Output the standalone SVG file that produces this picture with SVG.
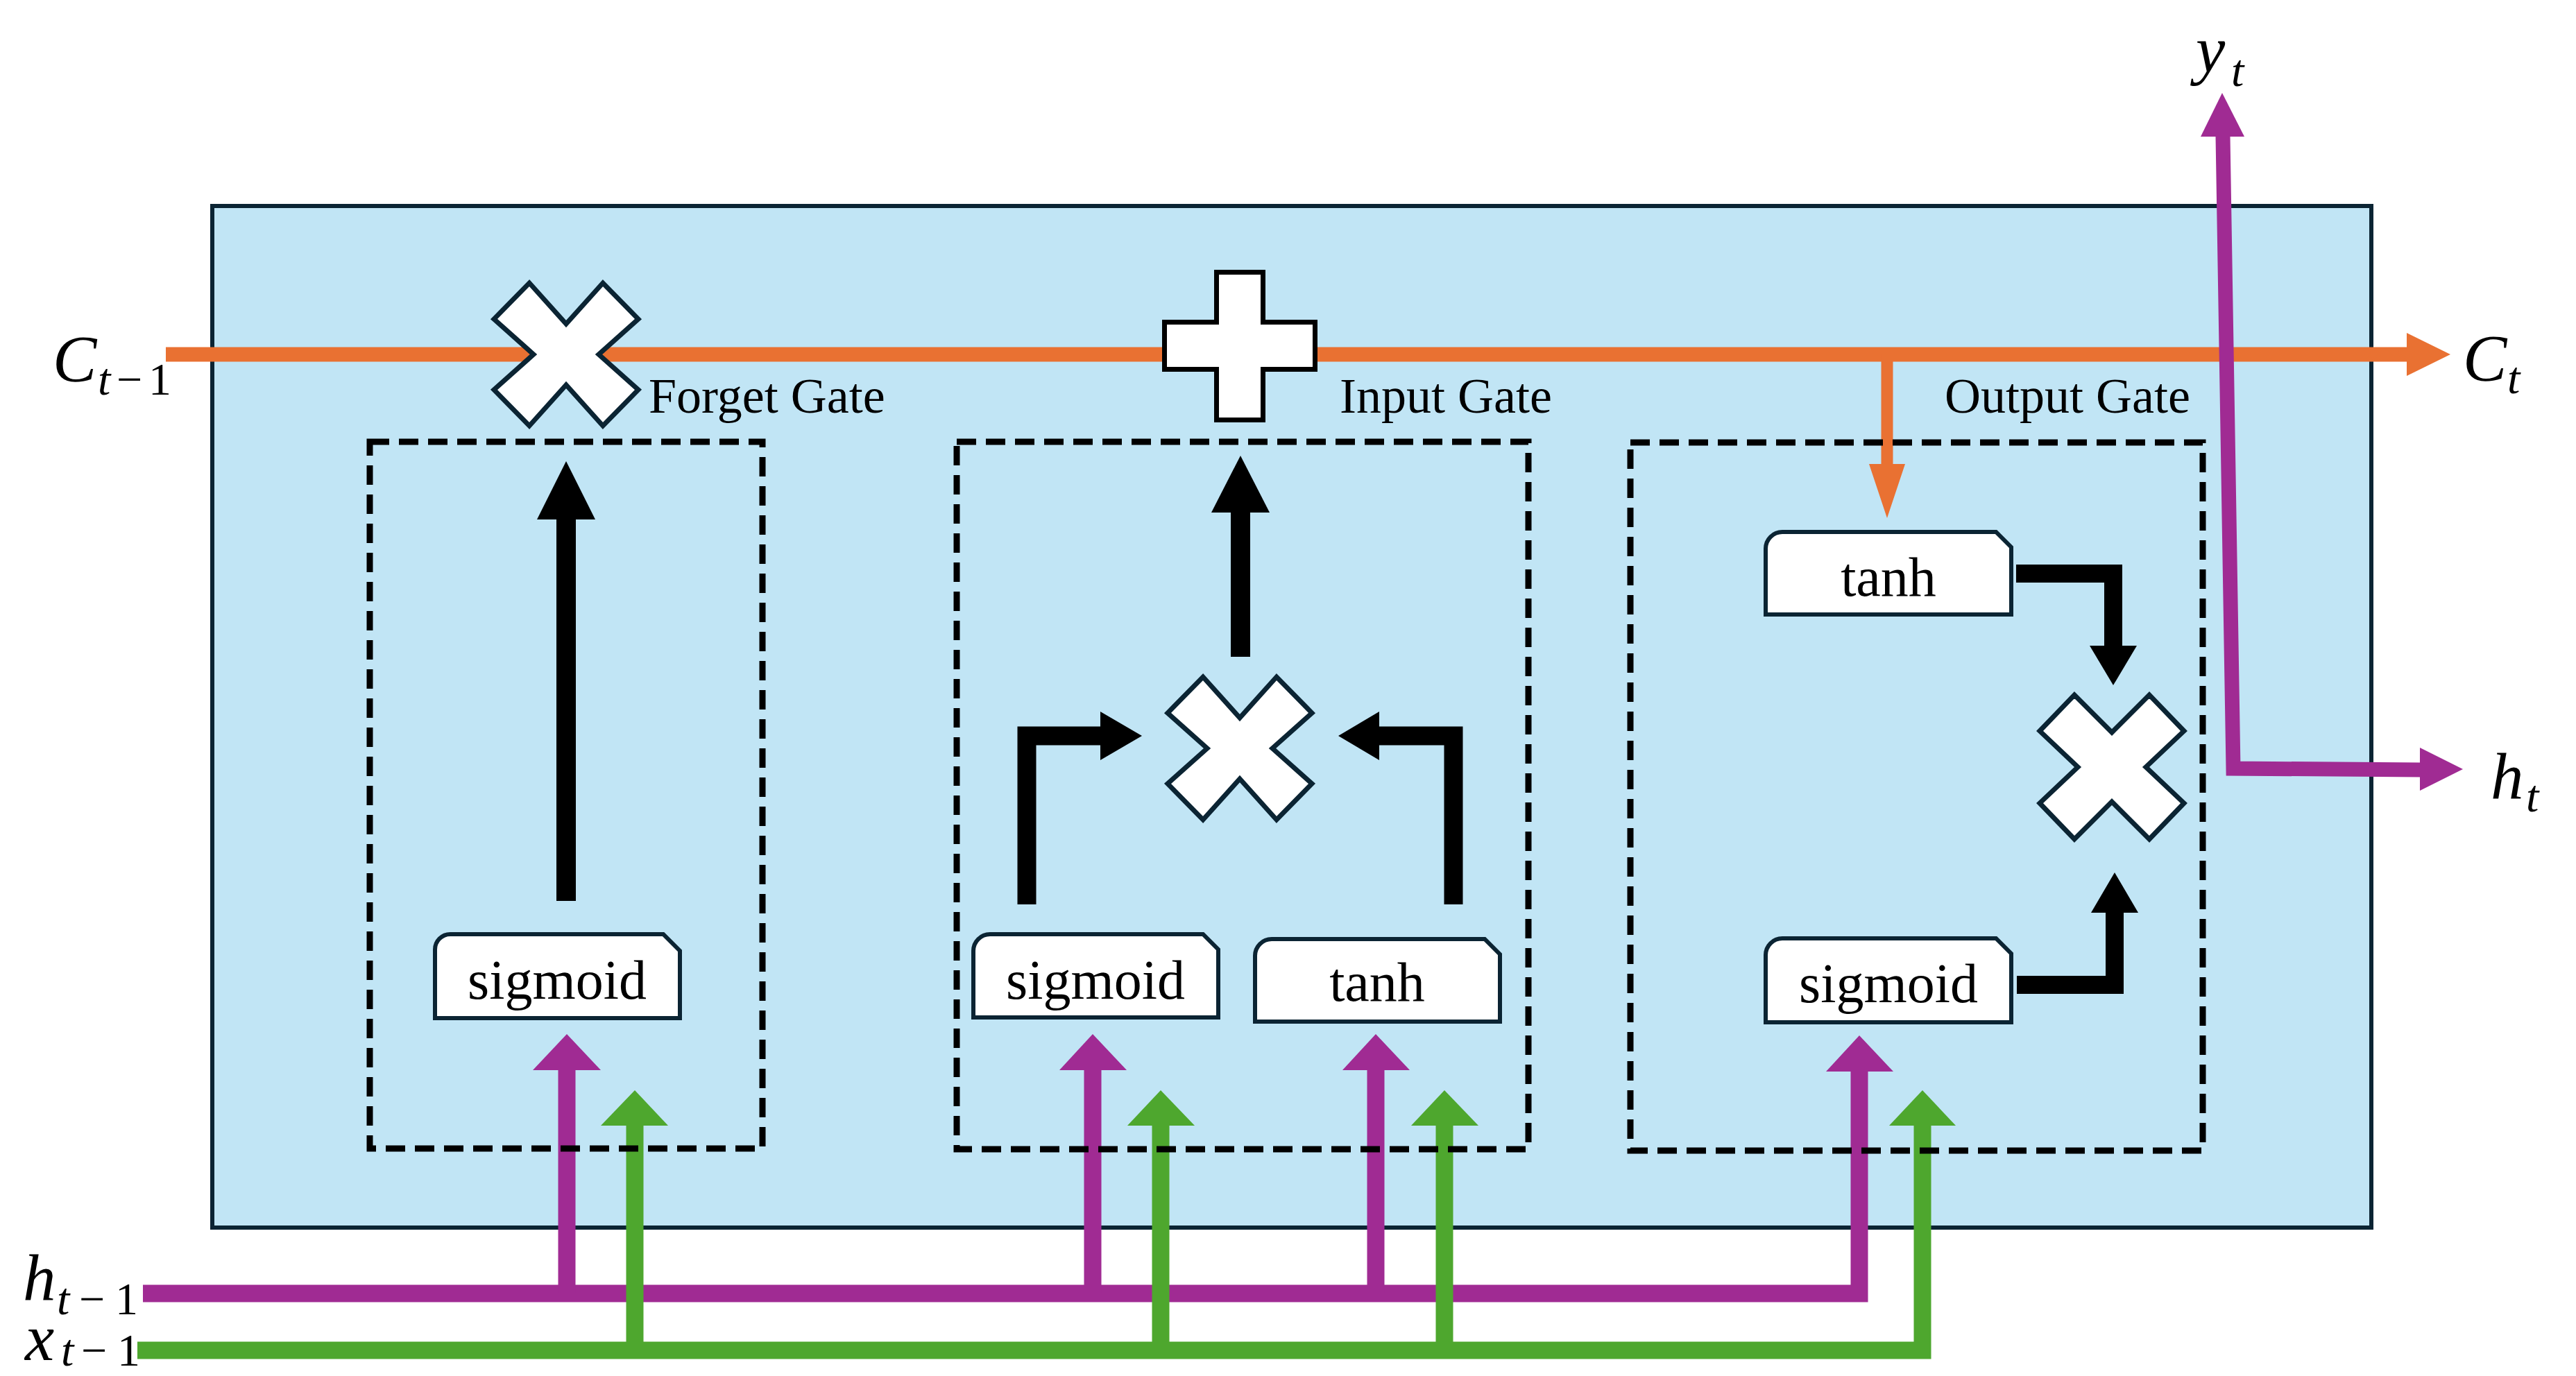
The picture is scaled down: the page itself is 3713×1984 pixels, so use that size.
<svg xmlns="http://www.w3.org/2000/svg" width="3713" height="1984" viewBox="0 0 3713 1984">
<style>
.cell{fill:#C1E5F5;stroke:#0B2433;stroke-width:6}
.dash{fill:none;stroke:#000;stroke-width:9;stroke-dasharray:28 14}
.op{fill:#fff;stroke:#0B2433;stroke-width:7;stroke-linejoin:miter}
.plus{fill:#fff;stroke:#000;stroke-width:7}
.fn{fill:#fff;stroke:#0B2433;stroke-width:6}
.fnt{font-family:"Liberation Serif","Times New Roman",serif;font-size:80px;fill:#000;text-anchor:middle}
.gate{font-family:"Liberation Serif","Times New Roman",serif;font-size:72px;fill:#000}
.m{font-family:"Liberation Serif","Times New Roman",serif;font-style:italic;font-size:95px;fill:#000}
.s{font-family:"Liberation Serif","Times New Roman",serif;font-style:italic;font-size:66px;fill:#000}
.su{font-family:"Liberation Serif","Times New Roman",serif;font-size:66px;fill:#000}
.or{fill:none;stroke:#E97132}
.pu{fill:none;stroke:#A02B93;stroke-linejoin:miter}
.gr{fill:none;stroke:#4EA72E;stroke-linejoin:miter}
.bk{fill:none;stroke:#000;stroke-linejoin:miter}
</style>

<g id="cell">
<rect class="cell" x="306" y="297" width="3112" height="1473"/>
</g>

<g id="connectors">
<!-- cell state line -->
<path class="or" stroke-width="21" d="M239,511 H3470"/>
<polygon fill="#E97132" points="3469,480 3532,511 3469,542"/>
<!-- branch to output tanh -->
<path class="or" stroke-width="17" d="M2720,511 V670"/>
<polygon fill="#E97132" points="2694,669 2746,669 2720,747"/>
<!-- output h_t / y_t -->
<path class="pu" stroke-width="21" d="M3204,196 L3219,1108 L3489,1110"/>
<polygon fill="#A02B93" points="3172,197 3235,197 3203,134"/>
<polygon fill="#A02B93" points="3488,1078 3550,1109 3488,1140"/>
<!-- h_{t-1} -->
<path class="pu" stroke-width="25" d="M206,1865 H2680 V1542"/>
<path class="pu" stroke-width="25" d="M817,1865 V1542 M1575,1865 V1542 M1983,1865 V1542"/>
<polygon fill="#A02B93" points="768,1543 866,1543 817,1491"/>
<polygon fill="#A02B93" points="1527,1543 1624,1543 1575,1491"/>
<polygon fill="#A02B93" points="1935,1543 2032,1543 1983,1491"/>
<polygon fill="#A02B93" points="2632,1545 2729,1545 2680,1493"/>
<!-- x_{t-1} -->
<path class="gr" stroke-width="25" d="M198,1947 H2771 V1622"/>
<path class="gr" stroke-width="25" d="M915,1947 V1622 M1673,1947 V1622 M2082,1947 V1622"/>
<polygon fill="#4EA72E" points="866,1623 963,1623 915,1572"/>
<polygon fill="#4EA72E" points="1625,1623 1722,1623 1673,1572"/>
<polygon fill="#4EA72E" points="2034,1623 2131,1623 2082,1572"/>
<polygon fill="#4EA72E" points="2723,1623 2819,1623 2771,1572"/>
<!-- forget gate arrow -->
<path class="bk" stroke-width="28" d="M816,1299 V748"/>
<polygon points="774,749 858,749 816,665"/>
<!-- input gate arrows -->
<path class="bk" stroke-width="28" d="M1788,947 V738"/>
<polygon points="1746,739 1830,739 1788,657"/>
<path class="bk" stroke-width="27" d="M1480,1304 V1061 H1587"/>
<polygon points="1586,1026 1646,1061 1586,1096"/>
<path class="bk" stroke-width="27" d="M2095,1304 V1061 H1987"/>
<polygon points="1988,1026 1929,1061 1988,1096"/>
<!-- output gate arrows -->
<path class="bk" stroke-width="26" d="M2906,827 H3046 V932"/>
<polygon points="3012,931 3080,931 3046,988"/>
<path class="bk" stroke-width="26" d="M2907,1420 H3048 V1315"/>
<polygon points="3014,1316 3082,1316 3048,1258"/>
</g>

<g id="forget-mul">
<path class="op" transform="translate(816,511)" d="M-53,-103 L0,-44 L53,-103 L104,-51 L47,0 L104,51 L53,103 L0,44 L-53,103 L-104,51 L-47,0 L-104,-51 Z"/>
</g>
<g id="input-add">
<path class="plus" d="M1753.5,392.5 H1820.5 V464.5 H1895.5 V532.5 H1820.5 V605.5 H1753.5 V532.5 H1678.5 V464.5 H1753.5 Z"/>
</g>
<g id="input-mul">
<path class="op" transform="translate(1787,1079)" d="M-53,-103 L0,-44 L53,-103 L104,-51 L47,0 L104,51 L53,103 L0,44 L-53,103 L-104,51 L-47,0 L-104,-51 Z"/>
</g>
<g id="output-mul">
<path class="op" transform="translate(3044,1106)" d="M-54,-104 L0,-50 L54,-104 L104,-52 L49,0 L104,52 L54,104 L0,50 L-54,104 L-104,52 L-49,0 L-104,-52 Z"/>
</g>

<g id="forget-sigmoid">
<path class="fn" d="M649,1347 H956 L980,1371 V1468 H627 V1369 A22,22 0 0 1 649,1347 Z"/>
<text class="fnt" x="803" y="1440">sigmoid</text>
</g>
<g id="input-sigmoid">
<path class="fn" d="M1427,1347 H1734 L1756,1369 V1467 H1403 V1371 A24,24 0 0 1 1427,1347 Z"/>
<text class="fnt" x="1579" y="1440">sigmoid</text>
</g>
<g id="input-tanh">
<path class="fn" d="M1833,1354 H2140 L2162,1376 V1473 H1809 V1378 A24,24 0 0 1 1833,1354 Z"/>
<text class="fnt" x="1985" y="1443">tanh</text>
</g>
<g id="output-tanh">
<path class="fn" d="M2569,767 H2877 L2899,789 V886 H2545 V791 A24,24 0 0 1 2569,767 Z"/>
<text class="fnt" x="2722" y="859">tanh</text>
</g>
<g id="output-sigmoid">
<path class="fn" d="M2569,1353 H2877 L2899,1375 V1474 H2545 V1377 A24,24 0 0 1 2569,1353 Z"/>
<text class="fnt" x="2722" y="1445">sigmoid</text>
</g>

<g id="forget-gate">
<rect class="dash" x="533" y="637" width="566" height="1019"/>
<text class="gate" x="935" y="595">Forget Gate</text>
</g>
<g id="input-gate">
<rect class="dash" x="1379" y="637" width="824" height="1020"/>
<text class="gate" x="1931" y="595">Input Gate</text>
</g>
<g id="output-gate">
<rect class="dash" x="2350" y="638" width="825" height="1021"/>
<text class="gate" x="2803" y="595">Output Gate</text>
</g>

<g id="labels">
<text class="m" x="76" y="550">C</text><text class="s" x="141" y="569">t</text><text class="su" x="168" y="569">−</text><text class="su" x="214" y="569">1</text>
<text class="m" x="3550" y="549">C</text><text class="s" x="3614" y="567">t</text>
<text class="m" x="3165" y="104">y</text><text class="s" x="3216" y="124">t</text>
<text class="m" x="3590" y="1152">h</text><text class="s" x="3641" y="1170">t</text>
<text class="m" x="33" y="1875">h</text><text class="s" x="82" y="1895">t</text><text class="su" x="114" y="1895">−</text><text class="su" x="166" y="1895">1</text>
<text class="m" x="36" y="1961">x</text><text class="s" x="88" y="1969">t</text><text class="su" x="117" y="1969">−</text><text class="su" x="169" y="1969">1</text>
</g>
</svg>
